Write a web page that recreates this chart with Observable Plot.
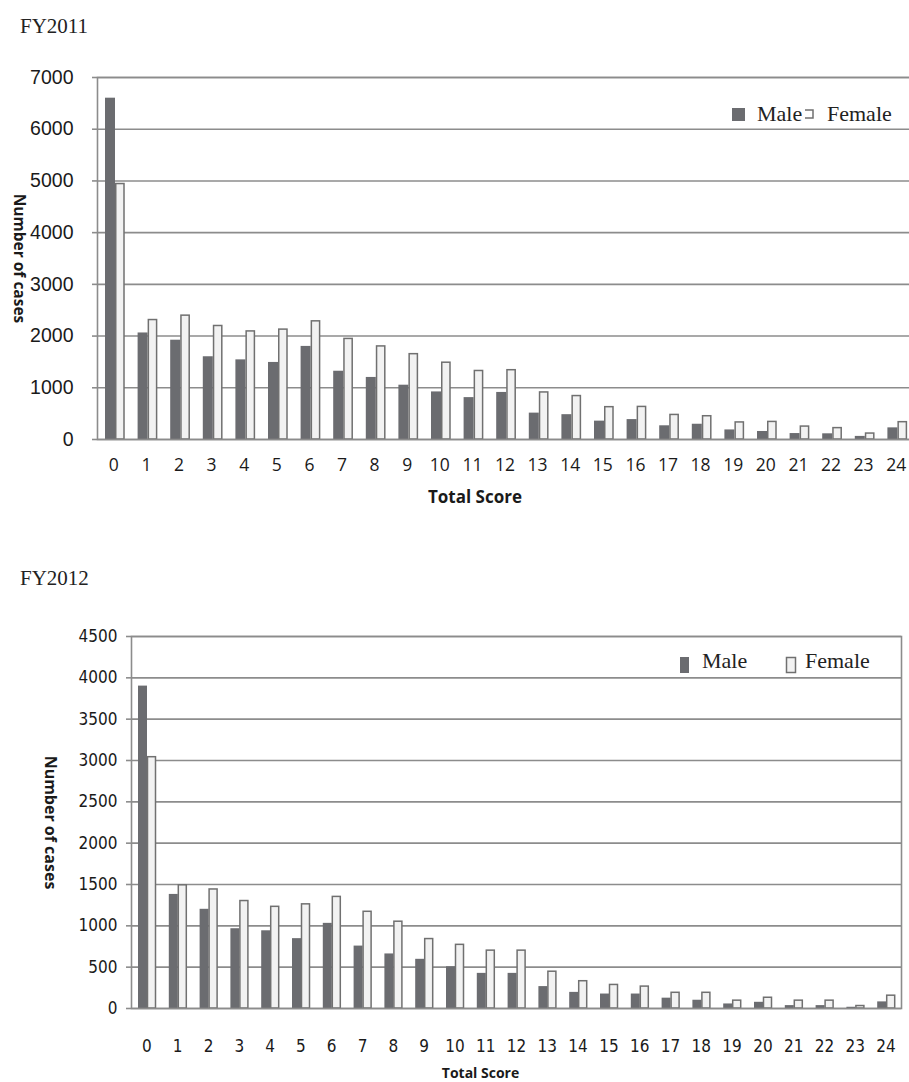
<!DOCTYPE html>
<html>
<head>
<meta charset="utf-8">
<script src="https://cdn.jsdelivr.net/npm/d3@7"></script>
<script src="https://cdn.jsdelivr.net/npm/@observablehq/plot@0.6"></script>
<style>
  html, body { margin: 0; padding: 0; background: #fff; }
  #page { position: relative; width: 909px; height: 1082px; overflow: hidden; background: #fff; }
  #top, #bottom { position: absolute; left: 0; }
  #top { top: 0; }
  #bottom { top: 530px; }
  #overlay { position: absolute; left: 0; top: 0; pointer-events: none; }
</style>
</head>
<body>
<div id="page">
  <div id="top"></div>
  <div id="bottom"></div>
  <svg id="overlay" width="909" height="1082"></svg>
</div>
<script>
// ---- data ----
const scores = ["0","1","2","3","4","5","6","7","8","9","10","11","12","13","14","15","16","17","18","19","20","21","22","23","24"];
const series = ["Male", "Female"];
const titles = ["FY2011", "FY2012"];

const male2011   = [6600, 2060, 1920, 1600, 1540, 1490, 1800, 1320, 1200, 1050, 920, 810, 910, 510, 480, 355, 385, 265, 295, 185, 155, 115, 110, 60, 225];
const female2011 = [4940, 2310, 2395, 2195, 2090, 2125, 2285, 1945, 1800, 1650, 1485, 1325, 1340, 910, 840, 625, 630, 475, 450, 330, 340, 250, 220, 115, 335];
const male2012   = [3900, 1380, 1200, 965, 940, 845, 1030, 755, 660, 595, 505, 425, 425, 265, 195, 175, 175, 125, 100, 55, 75, 35, 35, 15, 80];
const female2012 = [3040, 1490, 1440, 1300, 1230, 1260, 1350, 1170, 1050, 840, 770, 700, 700, 445, 330, 285, 265, 190, 190, 95, 130, 95, 95, 30, 155];

const yTicks2011 = [0, 1000, 2000, 3000, 4000, 5000, 6000, 7000];
const yTicks2012 = [0, 500, 1000, 1500, 2000, 2500, 3000, 3500, 4000, 4500];

const rows2011 = scores.map((s, i) => ({score: s, male: male2011[i], female: female2011[i]}));
const rows2012 = scores.map((s, i) => ({score: s, male: male2012[i], female: female2012[i]}));

const maleFill = "#6b6c70";
const femaleFill = "#f2f2f2";
const femaleStroke = "#707070";
const gridColor = "#8c8c8c";
const narrow = "'Liberation Sans Narrow', 'DejaVu Sans Condensed', 'Roboto', sans-serif";
const calibri = "'Open Sans', sans-serif";

// ---- FY2011 chart ----
const fig1 = Plot.plot({
  width: 912, height: 530,
  marginTop: 77, marginBottom: 91, marginLeft: 97, marginRight: 0,
  style: {background: "transparent", maxWidth: "none", overflow: "visible"},
  x: {type: "band", domain: scores, padding: 0, round: false, axis: null},
  y: {domain: [0, 7000]},
  marks: [
    Plot.gridY(yTicks2011, {stroke: gridColor, strokeOpacity: 1, strokeWidth: 1.6}),
    Plot.barY(rows2011, {x: "score", y: "male", fill: maleFill, insetLeft: 8, insetRight: 14.6}),
    Plot.barY(rows2011, {x: "score", y: "female", fill: femaleFill, stroke: femaleStroke, strokeWidth: 1.5, insetLeft: 18.75, insetRight: 5.6}),
    Plot.frame({stroke: gridColor, strokeWidth: 1.6}),
    Plot.axisY(yTicks2011, {tickSize: 5, tickPadding: 19, label: null, tickFormat: "d",
      stroke: gridColor, strokeWidth: 1.6, fill: "#1a1a1a", fontSize: 19.5, fontFamily: "'Liberation Sans', Arial, sans-serif"}),
    Plot.text(scores, {x: d => d, text: d => d, frameAnchor: "bottom", dy: 26, lineAnchor: "middle",
      fill: "#1a1a1a", fontSize: 17.5, fontFamily: calibri}),
    Plot.text(["Total Score"], {text: d => d, frameAnchor: "bottom", dx: -30, dy: 58.5, textAnchor: "middle", lineAnchor: "middle",
      fontSize: 17, fontWeight: "bold", fontFamily: calibri, fill: "#1a1a1a"}),
    Plot.text(["Number of cases"], {text: d => d, frameAnchor: "left", rotate: 90, dx: -79, textAnchor: "middle", lineAnchor: "middle",
      fontSize: 15.5, fontWeight: "bold", fontFamily: calibri, fill: "#1a1a1a"})
  ]
});
document.getElementById("top").appendChild(fig1);

// ---- FY2012 chart ----
const fig2 = Plot.plot({
  width: 909, height: 552,
  marginTop: 106, marginBottom: 74, marginLeft: 131, marginRight: 8,
  style: {background: "transparent", maxWidth: "none", overflow: "visible"},
  x: {type: "band", domain: scores, padding: 0, round: false, axis: null},
  y: {domain: [0, 4500]},
  marks: [
    Plot.gridY(yTicks2012, {stroke: gridColor, strokeOpacity: 1, strokeWidth: 1.6}),
    Plot.barY(rows2012, {x: "score", y: "male", fill: maleFill, insetLeft: 7, insetRight: 14.8}),
    Plot.barY(rows2012, {x: "score", y: "female", fill: femaleFill, stroke: femaleStroke, strokeWidth: 1.5, insetLeft: 16.5, insetRight: 6.3}),
    Plot.frame({stroke: gridColor, strokeWidth: 1.6}),
    Plot.axisY(yTicks2012, {tickSize: 5, tickPadding: 9, label: null, tickFormat: "d",
      stroke: gridColor, strokeWidth: 1.6, fill: "#1a1a1a", fontSize: 17, fontFamily: narrow}),
    Plot.text(scores, {x: d => d, text: d => d, frameAnchor: "bottom", dy: 38, lineAnchor: "middle",
      fill: "#1a1a1a", fontSize: 17, fontFamily: narrow}),
    Plot.text(["Total Score"], {text: d => d, frameAnchor: "bottom", dx: -36, dy: 65, textAnchor: "middle", lineAnchor: "middle",
      fontSize: 14, fontWeight: "bold", fontFamily: calibri, fill: "#1a1a1a"}),
    Plot.text(["Number of cases"], {text: d => d, frameAnchor: "left", rotate: 90, dx: -81, textAnchor: "middle", lineAnchor: "middle",
      fontSize: 16, fontWeight: "bold", fontFamily: calibri, fill: "#1a1a1a"})
  ]
});
document.getElementById("bottom").appendChild(fig2);

// ---- titles and legends (overlay) ----
const ov = d3.select("#overlay");
const serif = "'Liberation Serif', 'DejaVu Serif', serif";
ov.append("text").attr("x", 20).attr("y", 33).attr("font-family", serif).attr("font-size", 21).attr("fill", "#222").text(titles[0]);
ov.append("text").attr("x", 20).attr("y", 585).attr("font-family", serif).attr("font-size", 21).attr("fill", "#222").text(titles[1]);

// FY2011 legend
ov.append("rect").attr("x", 732).attr("y", 108).attr("width", 13).attr("height", 13).attr("fill", maleFill);
ov.append("text").attr("x", 757).attr("y", 121).attr("font-family", serif).attr("font-size", 22).attr("fill", "#222").text(series[0]);
ov.append("path").attr("d", "M805,110H813V118H805").attr("fill", "none").attr("stroke", femaleStroke).attr("stroke-width", 1.5);
ov.append("text").attr("x", 827).attr("y", 121).attr("font-family", serif).attr("font-size", 22).attr("fill", "#222").text(series[1]);

// FY2012 legend
ov.append("rect").attr("x", 680).attr("y", 657).attr("width", 9).attr("height", 16).attr("fill", maleFill);
ov.append("text").attr("x", 702).attr("y", 668).attr("font-family", serif).attr("font-size", 22).attr("fill", "#222").text(series[0]);
ov.append("rect").attr("x", 786.5).attr("y", 657.5).attr("width", 9).attr("height", 15).attr("fill", femaleFill).attr("stroke", femaleStroke).attr("stroke-width", 1.5);
ov.append("text").attr("x", 805).attr("y", 668).attr("font-family", serif).attr("font-size", 22).attr("fill", "#222").text(series[1]);
</script>
</body>
</html>
